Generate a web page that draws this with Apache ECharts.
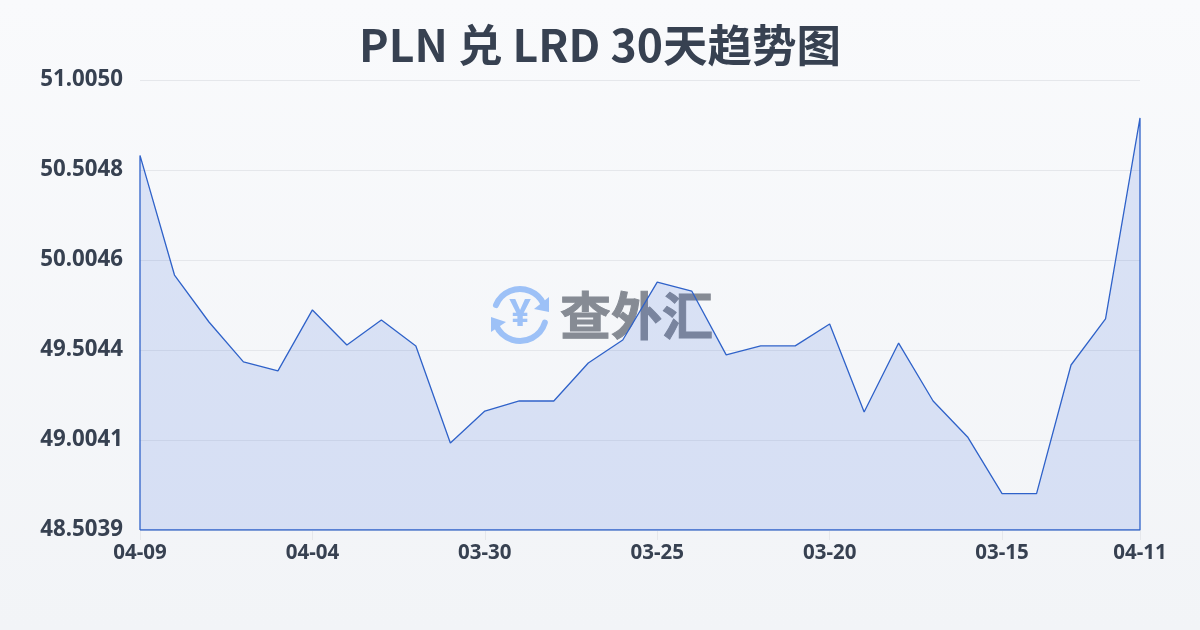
<!DOCTYPE html>
<html><head><meta charset="utf-8">
<style>html,body{margin:0;padding:0;background:#f5f7fa}#c{width:1200px;height:630px}</style>
<script src="https://cdn.jsdelivr.net/npm/echarts@6/dist/echarts.min.js"></script>
</head><body><div id="c"></div>
<script>
const titleText = 'PLN 兑 LRD 30天趋势图';
const dates = ['04-09','04-08','04-07','04-06','04-05','04-04','04-03','04-02','04-01','03-31','03-30','03-29','03-28','03-27','03-26','03-25','03-24','03-23','03-22','03-21','03-20','03-19','03-18','03-17','03-16','03-15','03-14','03-13','03-12','04-11'];
const rates = [50.586,49.921,49.660,49.438,49.388,49.727,49.532,49.671,49.527,48.987,49.165,49.221,49.221,49.432,49.560,49.882,49.832,49.477,49.527,49.527,49.649,49.160,49.543,49.221,49.021,48.7065,48.7065,49.421,49.677,50.794];
const yTicks = [48.5039,49.0041,49.5044,50.0046,50.5048,51.0050];
const xTickIndex = [0,5,10,15,20,25,29];
const baseValue = yTicks[0];
const lastIndex = dates.length - 1;
const outline = [[0, baseValue]].concat(rates.map((v, i) => [i, v]), [[lastIndex, baseValue], [0, baseValue]]);

const chart = echarts.init(document.getElementById('c'), null, {renderer: 'canvas'});
const font = '"Noto Sans","Noto Sans CJK SC",sans-serif';
chart.setOption({
  animation: false,
  backgroundColor: new echarts.graphic.LinearGradient(0,0,0,1,[{offset:0,color:'#f9fafc'},{offset:1,color:'#f2f4f7'}]),
  title: {text: titleText, left: 'center', top: 18, textStyle: {fontFamily: '"Noto Sans CJK SC"', fontSize: 44.5, fontWeight: 'bold', color: '#374151'}},
  grid: {left: 140, right: 60, top: 80, bottom: 100},
  xAxis: {
    type: 'value', min: 0, max: lastIndex,
    splitLine: {show: false},
    axisLine: {show: false},
    axisTick: {show: true, length: 10, customValues: xTickIndex, lineStyle: {color: '#e5e7eb'}},
    axisLabel: {customValues: xTickIndex, formatter: v => dates[v], margin: 13, fontFamily: font, fontSize: 20.5, fontWeight: 'bold', color: '#374151'}
  },
  yAxis: {
    type: 'value', min: yTicks[0], max: yTicks[yTicks.length-1],
    axisLine: {show: false},
    axisTick: {show: false, customValues: yTicks},
    splitLine: {show: true, lineStyle: {color: '#e5e7eb', width: 1}},
    axisLabel: {customValues: yTicks, formatter: v => v.toFixed(4), margin: 17, fontFamily: font, fontSize: 22.3, fontWeight: 'bold', color: '#374151'}
  },
  series: [{
    type: 'line', data: outline, symbol: 'none', z: 3,
    lineStyle: {color: '#2f62c9', width: 1.3},
    areaStyle: {color: 'rgba(45,95,220,0.2)'}
  }],
  graphic: [
    {type:'group', z:1, silent:true, children:[
      {type:'arc', shape:{cx:520,cy:315,r:26,startAngle:-2.75,endAngle:-0.45}, style:{stroke:'#9dc1f7',lineWidth:6,fill:null,lineCap:'round'}},
      {type:'arc', shape:{cx:520,cy:315,r:26,startAngle:0.3,endAngle:2.75}, style:{stroke:'#9dc1f7',lineWidth:6,fill:null,lineCap:'round'}},
      {type:'polygon', shape:{points:[[549,297],[549,312],[534,309]]}, style:{fill:'#9dc1f7'}},
      {type:'polygon', shape:{points:[[491,317],[491,332],[506,322]]}, style:{fill:'#9dc1f7'}},
      {type:'text', x:520, y:315, style:{text:'¥', x:0, y:0, align:'center', verticalAlign:'middle', fontFamily:font, fontSize:38, fontWeight:'bold', fill:'#9dc1f7'}},
      {type:'text', x:560, y:316, style:{text:'查外汇', x:0, y:0, align:'left', verticalAlign:'middle', fontFamily:'"Noto Sans CJK SC"', fontSize:51, fontWeight:'bold', fill:'#868b94', stroke:'#868b94', lineWidth:1}}
    ]}
  ]
});
</script></body></html>
